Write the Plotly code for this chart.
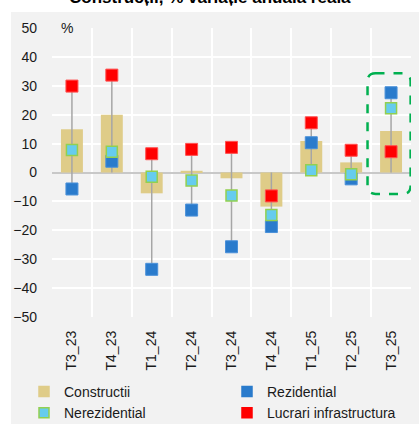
import plotly.graph_objects as go

# Quarterly annual real change, %
quarters = ["T3_23", "T4_23", "T1_24", "T2_24", "T3_24", "T4_24", "T1_25", "T2_25", "T3_25"]
constructii = [15.0, 20.0, -7.2, 0.6, -2.0, -11.8, 10.9, 3.5, 14.4]
rezidential = [-5.7, 3.9, -33.5, -13.0, -25.7, -18.7, 10.3, -2.2, 27.6]
nerezidential = [7.8, 7.2, -1.5, -2.8, -8.0, -14.7, 0.8, -0.6, 22.2]
infrastructura = [29.9, 33.7, 6.5, 8.0, 8.7, -8.1, 17.2, 7.7, 7.2]

FONT = "Liberation Sans, Arial, sans-serif"
BAR_COLOR = "#dfcc88"
REZ_COLOR = "#2a7bcc"
NEREZ_COLOR = "#66ccee"
NEREZ_EDGE = "#92d050"
RED = "#ff0000"

xpos = list(range(len(quarters)))

# high-low connector spanning every series and the zero line
hl_x, hl_y = [], []
for i in xpos:
    vals = [rezidential[i], nerezidential[i], infrastructura[i], 0]
    hl_x += [i, i, None]
    hl_y += [min(vals), max(vals), None]

fig = go.Figure()
fig.add_trace(go.Bar(x=xpos, y=constructii, width=0.55, marker=dict(color=BAR_COLOR, line=dict(width=0)),
                     name="Constructii", showlegend=False, hoverinfo="skip"))
fig.add_trace(go.Scatter(x=hl_x, y=hl_y, mode="lines", line=dict(color="#a6a6a6", width=1.5),
                         showlegend=False, hoverinfo="skip"))
fig.add_trace(go.Scatter(x=xpos, y=rezidential, mode="markers", showlegend=False,
                         marker=dict(symbol="square", size=12, color=REZ_COLOR,
                                     line=dict(color="#4a90d9", width=1))))
fig.add_trace(go.Scatter(x=xpos, y=nerezidential, mode="markers", showlegend=False,
                         marker=dict(symbol="square", size=11, color=NEREZ_COLOR,
                                     line=dict(color=NEREZ_EDGE, width=1.5))))
fig.add_trace(go.Scatter(x=xpos, y=infrastructura, mode="markers", showlegend=False,
                         marker=dict(symbol="square", size=12, color=RED,
                                     line=dict(color="#ff5050", width=1))))

# legend entries: two columns, each its own legend
legend_items = [
    ("Constructii", BAR_COLOR, BAR_COLOR, "legend"),
    ("Nerezidential", NEREZ_COLOR, NEREZ_EDGE, "legend"),
    ("Rezidential", REZ_COLOR, REZ_COLOR, "legend2"),
    ("Lucrari infrastructura", RED, RED, "legend2"),
]
for name, fill, edge, leg in legend_items:
    fig.add_trace(go.Scatter(x=[None], y=[None], mode="markers", name=name, legend=leg,
                             marker=dict(symbol="square", size=10, color=fill,
                                         line=dict(color=edge, width=1.5))))

# highlight box around the latest quarter (rounded, dashed)
x0, x1, y0, y1 = 7.41, 8.49, -7.4, 34.3
rx, ry = 0.2, 2.8
path = (f"M {x0+rx},{y1} L {x1-rx},{y1} Q {x1},{y1} {x1},{y1-ry} "
        f"L {x1},{y0+ry} Q {x1},{y0} {x1-rx},{y0} L {x0+rx},{y0} "
        f"Q {x0},{y0} {x0},{y0+ry} L {x0},{y1-ry} Q {x0},{y1} {x0+rx},{y1} Z")

leg_common = dict(orientation="v", xref="container", yref="container", yanchor="top", xanchor="left",
                  font=dict(size=14), bgcolor="rgba(0,0,0,0)", itemwidth=30, tracegroupgap=0)

fig.update_layout(
    width=419, height=424,
    margin=dict(l=52, r=8, t=28, b=107, autoexpand=False),
    paper_bgcolor="white", plot_bgcolor="#f2f2f2",
    font=dict(family=FONT, size=14, color="#1a1a1a"),
    showlegend=True,
    legend=dict(x=24 / 419, y=1 - 376 / 424, **leg_common),
    legend2=dict(x=227 / 419, y=1 - 376 / 424, **leg_common),
    shapes=[
        dict(type="rect", xref="paper", yref="paper", x0=-0.1142, x1=1.03, y0=-0.38, y1=1.0554,
             fillcolor="#f2f2f2", line=dict(width=0), layer="below"),
        dict(type="path", xref="x", yref="y", path=path, line=dict(color="#00b050", width=2.5, dash="dash"),
             fillcolor="rgba(0,0,0,0)"),
    ],
    annotations=[
        dict(text="<b>Construcții, % variație anuală reală</b>", xref="paper", yref="paper",
             x=0.44, y=1.107, xanchor="center", yanchor="middle", showarrow=False,
             font=dict(size=17, color="#000000")),
        dict(text="%", xref="paper", yref="paper", x=0.02, y=1.0, xanchor="left", yanchor="middle",
             showarrow=False, font=dict(size=14)),
    ],
)
fig.update_xaxes(range=[-0.5, 8.5], tickvals=xpos, ticktext=quarters, tickangle=-90,
                 showgrid=False, zeroline=False, ticks="", ticklabelstandoff=10,
                 minor=dict(tickvals=[i - 0.5 for i in range(len(quarters) + 1)], showgrid=True,
                            gridcolor="white", gridwidth=2))
fig.update_yaxes(range=[-50, 50], dtick=10, gridcolor="white", gridwidth=2, zeroline=True,
                 zerolinecolor="#c8c8c8", zerolinewidth=1.5, ticks="", ticklabelstandoff=14)

fig.write_html("out.html")
